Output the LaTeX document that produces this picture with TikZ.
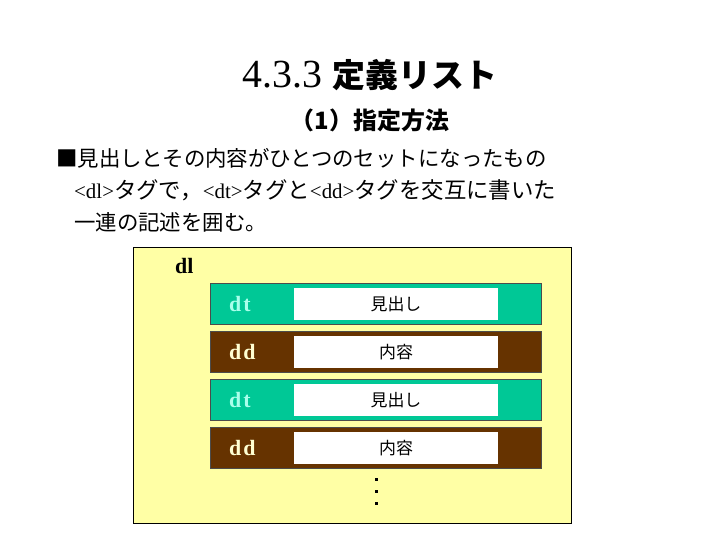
\documentclass[tikz,border=0pt]{standalone}
\usepackage{fontspec}
\setmainfont{Liberation Serif}
\newfontfamily\jp{Noto Sans CJK JP}
\usepackage{xcolor}
\usetikzlibrary{positioning,calc}
\definecolor{dlbg}{RGB}{255,255,165}
\definecolor{dtbar}{RGB}{0,200,150}
\definecolor{ddbar}{RGB}{102,51,0}
\definecolor{dttxt}{RGB}{170,255,235}
\definecolor{ddtxt}{RGB}{255,255,210}
\tikzset{
  dlbox/.style={draw=black, fill=dlbg, line width=0.8bp, anchor=north west,
    minimum width=438bp, minimum height=276bp, inner sep=0pt},
  dtrow/.style={draw=black!70, fill=dtbar, line width=0.8bp, anchor=north west,
    minimum width=331bp, minimum height=41bp, inner sep=0pt},
  ddrow/.style={dtrow, fill=ddbar},
  cell/.style={fill=white, minimum width=204bp, minimum height=32bp, inner sep=0pt,
    font=\jp\fontsize{17}{20}\selectfont},
  tag/.style={anchor=west, inner sep=0pt, font=\bfseries\fontsize{22}{26}\selectfont},
  body/.style={anchor=west, inner sep=0pt, font=\jp\fontsize{21.5}{26}\selectfont},
  dot/.style={rectangle, fill=black, inner sep=0pt, minimum size=3bp}
}
\begin{document}
\begin{tikzpicture}[x=1bp, y=-1bp]
  \useasboundingbox (0,0) rectangle (720,540);
  % 見出し
  \node[inner sep=0pt] (title) at (370,75)
    {\fontsize{40}{44}\selectfont 4.3.3 {\jp\bfseries\fontsize{33}{38}\selectfont 定義リスト}};
  \node[inner sep=0pt, font=\jp\bfseries\fontsize{24}{28}\selectfont] (sub) at (370,120){（1）指定方法};
  % 本文
  \node[body] (l1) at (56,158){■見出しとその内容がひとつのセットになったもの};
  \node[body] (l2) at (74,190){\rmfamily\fontsize{21}{26}\selectfont <dl>{\jp\fontsize{22.5}{26}\selectfont タグで，}<dt>{\jp\fontsize{22.5}{26}\selectfont タグと}<dd>{\jp\fontsize{22.5}{26}\selectfont タグを交互に書いた}};
  \node[body] (l3) at (74,222){一連の記述を囲む。};
  % dl の枠
  \node[dlbox] (dl) at (133,247){};
  \node[tag] (dllbl) at (175,266){dl};
  % dt / dd
  \node[dtrow] (r1) at (210,283){};
  \node[ddrow] (r2) at (210,331){};
  \node[dtrow] (r3) at (210,379){};
  \node[ddrow] (r4) at (210,427){};
  \node[cell] (c1) at (396,304){見出し};
  \node[cell] (c2) at (396,352){内容};
  \node[cell] (c3) at (396,400){見出し};
  \node[cell] (c4) at (396,448){内容};
  \node[tag, text=dttxt] (t1) at ([xshift=19bp]r1.west){d\kern2bp t};
  \node[tag, text=ddtxt] (t2) at ([xshift=19bp]r2.west){d\kern2bp d};
  \node[tag, text=dttxt] (t3) at ([xshift=19bp]r3.west){d\kern2bp t};
  \node[tag, text=ddtxt] (t4) at ([xshift=19bp]r4.west){d\kern2bp d};
  % 省略
  \node[dot] (m1) at (376,479){};
  \node[dot] (m2) at (376,491){};
  \node[dot] (m3) at (376,503){};
\end{tikzpicture}
\end{document}
